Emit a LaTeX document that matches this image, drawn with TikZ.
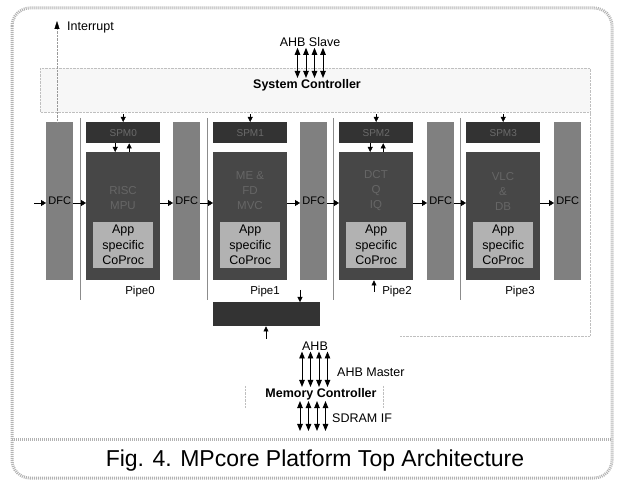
\documentclass[tikz,border=0pt]{standalone}
\usepackage{fontspec}
\setmainfont{Liberation Sans}
\usetikzlibrary{arrows.meta,positioning}

\begin{document}
\begin{tikzpicture}[x=1pt,y=-1pt,
  blk/.style={inner sep=0pt, anchor=north west},
  proc/.style={blk, fill=black!72, minimum width=74pt, minimum height=128pt},
  spm/.style={blk, fill=black!80, minimum width=74pt, minimum height=21pt, text=black!58, font=\fontsize{10}{12}\selectfont},
  dfc/.style={blk, fill=black!50, minimum width=27pt, minimum height=158pt, font=\fontsize{11}{12}\selectfont},
  copr/.style={blk, fill=black!30, minimum width=60pt, minimum height=46pt, align=center, font=\fontsize{12.5}{15.5}\selectfont},
  ptxt/.style={text=black!60, align=center, font=\fontsize{11.5}{15}\selectfont},
  lbl/.style={inner sep=1pt, font=\fontsize{12.5}{14}\selectfont},
  plbl/.style={inner sep=1pt, font=\fontsize{11.5}{13}\selectfont},
  blbl/.style={lbl, font=\fontsize{12.5}{14}\selectfont\bfseries},
  flow/.style={-{Triangle[length=5pt,width=6pt]}, thin},
  tip/.style={-{Triangle[length=5pt,width=5pt]}, thin},
  dbl/.style={{Triangle[length=7pt,width=5.5pt]}-{Triangle[length=7pt,width=5.5pt]}, line width=0.9pt},
  faint/.style={black!25, densely dotted},
  pline/.style={black!45, thin}
]
  \useasboundingbox (0,0) rectangle (619,486);

  % 外框
  \draw[black!30, line width=3pt, dash pattern=on 1pt off 1pt, rounded corners=18pt] (12,8) rectangle (612,478);
  \draw[black!30, line width=3pt, dash pattern=on 1pt off 1pt] (12,440) -- (612,440);

  % 系统控制器
  \draw[faint, fill=black!3] (40,68) rectangle (590,112);
  \node[lbl] (ahbs) at (310,42) {AHB Slave};
  \node[blbl] (sysc) at (307,85) {System Controller};
  \foreach \x in {297.5,306,314.5,323}
    \draw[dbl] (ahbs.south -| \x,0) -- (sysc.north -| \x,0);

  % 流水线边界
  \draw[pline] (80,118) -- (80,300);
  \draw[pline] (207,118) -- (207,300);
  \draw[pline] (333,118) -- (333,300);
  \draw[pline] (460,118) -- (460,300);
  \draw[faint] (400,336) -- (590,336) -- (590,112);

  % DFC
  \node[dfc] (dfc0) at (46,122) {DFC};
  \node[dfc] (dfc1) at (173,122) {DFC};
  \node[dfc] (dfc2) at (300,122) {DFC};
  \node[dfc] (dfc3) at (427,122) {DFC};
  \node[dfc] (dfc4) at (554,122) {DFC};

  % SPM
  \node[spm] (spm0) at (86,122) {SPM0};
  \node[spm] (spm1) at (213,122) {SPM1};
  \node[spm] (spm2) at (339,122) {SPM2};
  \node[spm] (spm3) at (466,122) {SPM3};

  % 处理器
  \node[proc] (p0) at (86,152) {};
  \node[proc] (p1) at (213,152) {};
  \node[proc] (p2) at (339,152) {};
  \node[proc] (p3) at (466,152) {};
  \node[ptxt] at (123,198) {RISC\\MPU};
  \node[ptxt] at (250,191) {ME \&\\FD\\MVC};
  \node[ptxt] at (376,191) {DCT\\Q\\IQ};
  \node[ptxt] at (503,191) {VLC\\\&\\DB};

  % 协处理器
  \node[copr] (c0) at (93,222) {App\\specific\\CoProc};
  \node[copr] (c1) at (220,222) {App\\specific\\CoProc};
  \node[copr] (c2) at (346,222) {App\\specific\\CoProc};
  \node[copr] (c3) at (473,222) {App\\specific\\CoProc};

  % 流水线标签
  \node[plbl] (pipe0) at (140,292) {Pipe0};
  \node[plbl] (pipe1) at (265,292) {Pipe1};
  \node[plbl] (pipe2) at (397,292) {Pipe2};
  \node[plbl] (pipe3) at (520,292) {Pipe3};

  % 数据流
  \coordinate (in0) at (34,203);
  \draw[flow] (in0) -- (in0 -| dfc0.west);
  \draw[flow] (in0 -| dfc0.east) -- (in0 -| p0.west);
  \draw[flow] (in0 -| p0.east) -- (in0 -| dfc1.west);
  \draw[flow] (in0 -| dfc1.east) -- (in0 -| p1.west);
  \draw[flow] (in0 -| p1.east) -- (in0 -| dfc2.west);
  \draw[flow] (in0 -| dfc2.east) -- (in0 -| p2.west);
  \draw[flow] (in0 -| p2.east) -- (in0 -| dfc3.west);
  \draw[flow] (in0 -| dfc3.east) -- (in0 -| p3.west);
  \draw[flow] (in0 -| p3.east) -- (in0 -| dfc4.west);

  % 控制器到 SPM
  \draw[tip] (spm0.north |- sysc.south) ++(0,22) -- (spm0.north);
  \draw[tip] (spm1.north |- sysc.south) ++(0,22) -- (spm1.north);
  \draw[tip] (spm2.north |- sysc.south) ++(0,22) -- (spm2.north);
  \draw[tip] (spm3.north |- sysc.south) ++(0,22) -- (spm3.north);

  % SPM 与处理器
  \draw[tip] ([xshift=-8pt]spm0.south) -- ([xshift=-8pt]p0.north);
  \draw[tip] ([xshift=6pt]p0.north) -- ([xshift=6pt]spm0.south);
  \draw[tip] ([xshift=-6pt]spm2.south) -- ([xshift=-6pt]p2.north);
  \draw[tip] ([xshift=7pt]p2.north) -- ([xshift=7pt]spm2.south);

  % 中断
  \node[lbl, anchor=west] (irq) at (66,28) {Interrupt};
  \draw[black!40, densely dotted, -{Triangle[length=8pt,width=5pt,color=black]}] (dfc0.north -| 57,0) -- (57,21);

  % 总线接口
  \node[blk, fill=black!80, minimum width=107pt, minimum height=24pt] (arb) at (213,302) {};
  \coordinate (p1out) at (300,290);
  \draw[tip] (p1out) -- (p1out |- arb.north);
  \coordinate (p2in) at (374,292);
  \draw[tip] (p2in) -- (p2in |- p2.south);

  % 存储控制器
  \node[lbl] (ahb) at (315,346) {AHB};
  \coordinate (arbin) at (266,339);
  \draw[tip] (arbin) -- (arbin |- arb.south);
  \node[blbl] (memc) at (321,394) {Memory Controller};
  \foreach \x in {302,310.5,319,327.5}
    \draw[dbl] (ahb.south -| \x,0) -- (memc.north -| \x,0);
  \node[lbl, anchor=west] (ahbm) at (336,372) {AHB Master};
  \draw[faint] (245,386) -- (245,408);
  \draw[faint] (383,386) -- (383,408);
  \coordinate (sdram) at (313,431);
  \foreach \x in {300,308.5,317,325.5}
    \draw[dbl] (memc.south -| \x,0) -- (sdram -| \x,0);
  \node[lbl, anchor=west] (sdif) at (331,418) {SDRAM IF};

  % 标题
  \node[font=\fontsize{23}{26}\selectfont] (cap) at (315,461) {Fig. 4. MPcore Platform Top Architecture};
\end{tikzpicture}
\end{document}
